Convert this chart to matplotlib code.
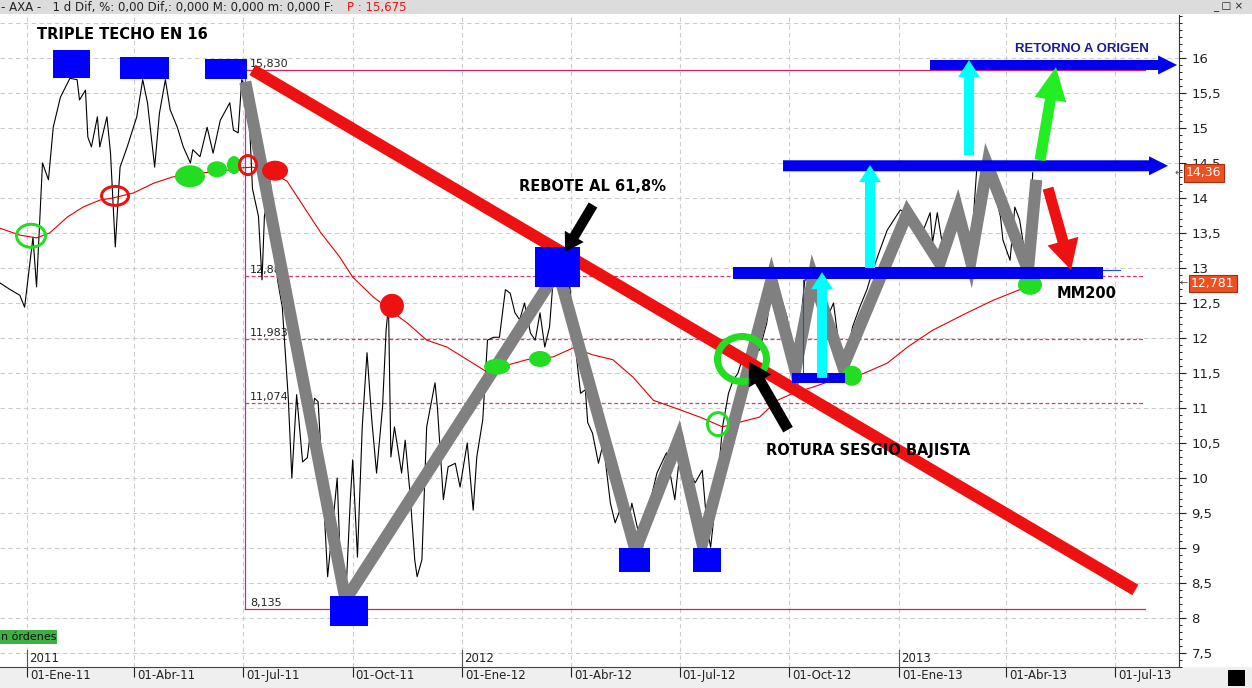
import numpy as np
import pandas as pd
import matplotlib
matplotlib.use('Agg')
import matplotlib.pyplot as plt
from matplotlib.patches import Rectangle, Ellipse, FancyArrowPatch, ArrowStyle
from matplotlib.ticker import MultipleLocator, FuncFormatter
import matplotlib.transforms as mtrans

# ---------------- data (x = days since 2011-01-01, y = price in EUR) ----------------
BASE = pd.Timestamp('2011-01-01')

price_days = [-23, -14, -6, -2, 5, 8, 13, 18, 22, 28,
              36, 42, 44, 49, 51, 54, 59, 61, 67, 70,
              74, 78, 84, 92, 97, 101, 107, 111, 116, 120,
              126, 131, 137, 139, 145, 151, 156, 162, 170, 173,
              177, 180, 183, 185, 189, 194, 197, 199, 204, 210,
              214, 219, 222, 226, 231, 235, 241, 244, 248, 252,
              260, 262, 265, 268, 271, 273, 277, 281, 285, 289,
              293, 298, 301, 303, 305, 308, 314, 317, 321, 325,
              327, 331, 335, 342, 344, 349, 353, 359, 363, 369,
              374, 377, 382, 386, 391, 396, 401, 405, 409, 413,
              417, 422, 426, 430, 434, 438, 441, 447, 451, 455,
              459, 464, 468, 470, 474, 479, 483, 489, 493, 497,
              503, 507, 512, 516, 522, 528, 536, 543, 549, 556,
              560, 566, 570, 573, 578, 583, 588, 592, 596, 600,
              606, 614, 620, 625, 631, 637, 642, 648, 652, 656,
              663, 671, 676, 681, 687, 692, 698, 704, 709, 715,
              721, 732, 736, 743, 749, 757, 759, 763, 768, 774,
              779, 785, 791, 796, 805, 810, 816, 818, 824, 828,
              832, 835, 839, 843]
price_vals = [12.79, 12.69, 12.61, 12.44, 13.44, 12.73, 14.50, 14.26, 15.01, 15.44,
              15.71, 15.69, 15.40, 15.54, 14.87, 14.73, 15.16, 14.73, 15.16, 14.64,
              13.30, 14.44, 14.73, 15.16, 15.69, 15.36, 14.44, 15.21, 15.69, 15.26,
              15.01, 14.73, 14.50, 14.69, 14.59, 15.01, 14.64, 15.11, 15.36, 14.97,
              14.93, 15.69, 15.59, 15.62, 14.13, 13.74, 12.83, 13.74, 14.24, 12.83,
              12.44, 11.14, 10.00, 11.19, 10.23, 10.29, 11.14, 11.09, 9.89, 8.59,
              10.00, 9.07, 8.19, 8.59, 9.69, 10.26, 8.87, 10.73, 11.79, 10.83,
              10.07, 11.01, 12.11, 12.47, 10.30, 10.73, 10.07, 10.54, 9.79, 8.83,
              8.59, 8.83, 10.73, 11.36, 11.01, 9.69, 10.16, 10.21, 9.87, 10.50,
              9.54, 10.30, 10.83, 11.97, 12.01, 12.01, 12.69, 12.64, 12.36, 12.26,
              12.50, 12.07, 11.97, 12.36, 11.87, 12.16, 12.83, 12.97, 12.64, 12.73,
              11.97, 11.21, 11.26, 10.79, 10.64, 10.21, 10.50, 9.64, 9.36, 9.54,
              9.26, 9.64, 9.26, 9.01, 9.64, 10.07, 10.36, 9.69, 10.64, 10.07,
              9.93, 10.11, 9.30, 9.01, 9.79, 10.73, 11.21, 11.40, 11.50, 11.73,
              11.73, 11.83, 12.21, 12.79, 12.64, 12.30, 11.69, 12.16, 12.83, 12.83,
              12.44, 12.30, 12.50, 11.83, 11.73, 12.16, 12.44, 12.69, 12.97, 13.26,
              13.54, 13.83, 13.79, 13.64, 13.44, 13.79, 13.36, 13.79, 13.26, 13.54,
              13.87, 13.59, 13.16, 14.40, 14.59, 14.16, 13.73, 13.40, 13.11, 13.87,
              13.69, 13.36, 13.07, 14.36]

ma_days = [-23, -6, 8, 19, 34, 47, 61, 72, 89, 106,
           122, 145, 159, 179, 189, 201, 218, 246, 262, 273,
           290, 304, 319, 335, 352, 369, 386, 402, 419, 441,
           458, 474, 491, 508, 525, 548, 564, 583, 598, 614,
           629, 642, 659, 676, 698, 721, 738, 759, 788, 810,
           832, 841]
ma_vals = [13.57, 13.47, 13.43, 13.50, 13.73, 13.87, 13.97, 14.00, 14.07, 14.21,
           14.30, 14.36, 14.37, 14.43, 14.44, 14.40, 14.24, 13.51, 13.16, 12.87,
           12.59, 12.40, 12.21, 11.97, 11.87, 11.69, 11.51, 11.61, 11.69, 11.73,
           11.86, 11.76, 11.69, 11.44, 11.11, 10.97, 10.87, 10.73, 10.80, 10.87,
           11.11, 11.21, 11.30, 11.40, 11.47, 11.64, 11.87, 12.11, 12.36, 12.54,
           12.69, 12.78]

zigzag_days = [183, 267, 445, 510, 546, 566, 624, 644, 659, 684, 738, 765, 780, 791, 805, 839, 846]
zigzag_vals = [15.66, 8.26, 12.97, 8.97, 10.54, 9.07, 12.83, 11.54, 12.86, 11.59,
               13.79, 13.07, 13.83, 13.11, 14.47, 12.97, 14.26]

trend_days = [189, 929]
trend_vals = [15.83, 8.40]

fib_days = [183, 937]
fib_high, fib_low = 15.830, 8.135
fib_mid_levels = [12.889, 11.983, 11.074]
fib_labels = ['15,830', '12,889', '11,983', '11,074', '8,135']

square_days = [37.7, 98.9, 166.8, 269.9, 444.3, 509.6, 570.0]
square_vals = [15.91, 15.86, 15.84, 8.10, 13.01, 8.83, 8.83]

# circles on the moving average
mark_days = [3.4, 73.8, 136.6, 159.3, 173.5, 185.2, 207.9, 305.9, 394.0, 430.0, 579.2, 599.3, 691.5, 840.7]
mark_vals = [13.46, 14.03, 14.31, 14.41, 14.47, 14.47, 14.39, 12.46, 11.59, 11.70, 10.77, 11.70, 11.46, 12.76]
mark_kind = ['open', 'open', 'fill', 'fill', 'fill', 'open', 'fill', 'fill', 'fill', 'fill', 'open', 'open', 'fill', 'fill']
mark_color = ['g', 'r', 'g', 'g', 'g', 'r', 'r', 'r', 'g', 'g', 'g', 'g', 'g', 'g']

level_vals = [15.90, 14.46, 12.93, 11.43]
level_start = [756.9, 633.7, 591.8, 641.2]
level_end = [964.0, 956.4, 901.9, 685.7]

cyan_days = [666.4, 706.6, 789.6]
cyan_from = [11.43, 13.00, 14.61]
cyan_to = [12.94, 14.47, 15.97]

tick_dates = ['2011-01-01', '2011-04-01', '2011-07-01', '2011-10-01', '2012-01-01', '2012-04-01',
              '2012-07-01', '2012-10-01', '2013-01-01', '2013-04-01', '2013-07-01']
tick_labels = ['01-Ene-11', '01-Abr-11', '01-Jul-11', '01-Oct-11', '01-Ene-12', '01-Abr-12',
               '01-Jul-12', '01-Oct-12', '01-Ene-13', '01-Abr-13', '01-Jul-13']
year_dates = ['2011-01-01', '2012-01-01', '2013-01-01']
year_labels = ['2011', '2012', '2013']

last_price, last_ma = 14.36, 12.781

# ---------------- figure ----------------
W, H = 1252, 688
fig = plt.figure(figsize=(W / 100, H / 100), dpi=100)
fig.patch.set_facecolor('white')
PX_R, PX_T, PX_B = 1179, 15, 667
ax = fig.add_axes([0, 1 - PX_B / H, PX_R / W, (PX_B - PX_T) / H])
X0, X1 = -22.63, 965.6
Y0, Y1 = 7.30, 16.614
ax.set_xlim(X0, X1)
ax.set_ylim(Y0, Y1)
DX = (X1 - X0) / PX_R
DY = (Y1 - Y0) / (PX_B - PX_T)
PT = 0.72

def dnum(s):
    return (pd.Timestamp(s) - BASE).days

# grid and axes
ax.set_yticks(np.arange(7.5, 16.01, 0.5))
ax.yaxis.set_minor_locator(MultipleLocator(0.1))
ax.yaxis.set_major_formatter(FuncFormatter(lambda v, p: ('%g' % v).replace('.', ',')))
ax.yaxis.tick_right()
ax.tick_params(axis='y', which='major', direction='out', length=5, width=0.8, labelsize=9.5,
               pad=4, colors='#222222')
ax.tick_params(axis='y', which='minor', direction='out', length=2.5, width=0.7, colors='#222222')
ax.set_xticks([dnum(d) for d in tick_dates])
ax.set_xticklabels(tick_labels, ha='left', fontsize=8.5, color='#222222')
ax.tick_params(axis='x', direction='out', length=7, width=0.8, pad=-5.5, colors='#222222')
ax.grid(True, color='#cdcdcd', linestyle=(0, (4, 3)), lw=0.8, zorder=0)
ax.axhline(16.5, color='#cdcdcd', linestyle=(0, (4, 3)), lw=0.8, zorder=0)
ax.set_axisbelow(True)
for s in ['left', 'top']:
    ax.spines[s].set_visible(False)
ax.spines['right'].set_color('#333333')
ax.spines['bottom'].set_color('#444444')
# shift x tick labels slightly right of their tick
offset = mtrans.ScaledTranslation(3 / 100, 0, fig.dpi_scale_trans)
for lab in ax.get_xticklabels():
    lab.set_transform(lab.get_transform() + offset)

for d, lab in zip(year_dates, year_labels):
    xd = dnum(d)
    ax.plot([xd, xd], [Y0, Y0 + 17 * DY], color='#555555', lw=0.8, zorder=1)
    ax.text(xd + 2 * DX, Y0 + 9 * DY, lab, fontsize=8.5, va='center', ha='left', color='#222222')

# fibonacci lines
ax.plot(fib_days, [fib_high] * 2, color='#cc2266', lw=0.9, zorder=1)
ax.plot(fib_days, [fib_low] * 2, color='#cc2266', lw=0.9, zorder=1)
ax.plot([fib_days[0]] * 2, [fib_low, fib_high], color='#b030b0', lw=0.9, zorder=1)
for lv in fib_mid_levels:
    ax.plot(fib_days, [lv] * 2, color='#dd3377', lw=0.9, linestyle=(0, (3, 2)), zorder=1)
for lv, lab in zip([fib_high] + fib_mid_levels + [fib_low], fib_labels):
    ax.text(fib_days[0] + 5 * DX, lv + 1 * DY, lab, fontsize=8, va='bottom', ha='left',
            color='#222222', zorder=1.5)

# price and moving average
ax.plot(price_days, price_vals, color='black', lw=0.8, zorder=2)
ax.plot(ma_days, ma_vals, color='#e00000', lw=0.8, zorder=3)

# grey zigzag and red trend line
ax.plot(zigzag_days, zigzag_vals, color='#808080', lw=12 * PT, solid_joinstyle='miter',
        solid_capstyle='butt', zorder=4)
ax.plot(trend_days, trend_vals, color='#ee1111', lw=12 * PT, solid_capstyle='butt', zorder=5)

# circles
mark_size = [(32, 26), (30, 22), (30, 22), (20, 16), (14, 18), (20, 22), (26, 20), (24, 24),
             (26, 16), (22, 16), (24, 26), (56, 52), (20, 20), (24, 20)]
mark_lw = {0: 3, 1: 3, 5: 3, 10: 3, 11: 7}
cols = {'g': '#22dd22', 'r': '#ee1111'}
for i, (xd, yv, k, c) in enumerate(zip(mark_days, mark_vals, mark_kind, mark_color)):
    w, h = mark_size[i]
    if k == 'fill':
        e = Ellipse((xd, yv), w * DX, h * DY, facecolor=cols[c], edgecolor='none', zorder=6)
    else:
        e = Ellipse((xd, yv), (w - mark_lw[i]) * DX, (h - mark_lw[i]) * DY, facecolor='none',
                    edgecolor=cols[c], lw=mark_lw[i] * PT, zorder=6)
    ax.add_patch(e)

# blue squares
sq_size = [(37, 28), (49, 22), (42, 20), (38, 30), (45, 40), (31, 24), (28, 24)]
for xd, yv, (w, h) in zip(square_days, square_vals, sq_size):
    ax.add_patch(Rectangle((xd - w / 2 * DX, yv - h / 2 * DY), w * DX, h * DY,
                           facecolor='#0000ff', edgecolor='none', zorder=7))

def arrow(x0, y0, x1, y1, color, tail, hw, hl, z=8):
    st = ArrowStyle.Simple(head_length=hl * PT, head_width=hw * PT, tail_width=tail * PT)
    ax.add_patch(FancyArrowPatch((x0, y0), (x1, y1), arrowstyle=st, mutation_scale=1,
                                 color=color, lw=0, shrinkA=0, shrinkB=0, zorder=z))

# blue levels
arrow(level_start[0], level_vals[0], level_end[0], level_vals[0], '#0000ee', 10, 19, 19, z=7)
arrow(level_start[1], level_vals[1], level_end[1], level_vals[1], '#0000ee', 11, 19, 19, z=7)
ax.plot([level_start[2], level_end[2]], [level_vals[2]] * 2, color='#0000ee', lw=12 * PT,
        solid_capstyle='butt', zorder=7)
ax.plot([level_end[2], level_end[2] + 17 * DX], [level_vals[2] + 3 * DY] * 2, color='#2244ee', lw=0.8, zorder=7)
ax.plot([level_start[3], level_end[3]], [level_vals[3]] * 2, color='#0000ee', lw=10 * PT,
        solid_capstyle='butt', zorder=7)
ax.plot([650.5, 650.5], [11.43, 12.83], color='#2244ee', lw=0.8, zorder=4.5)

# cyan arrows
for xd, a, b in zip(cyan_days, cyan_from, cyan_to):
    arrow(xd, a, xd, b, '#00ffff', 10, 22, 17)
# green / red / black arrows
arrow(849.1, 14.54, 862.5, 15.87, '#22ee22', 11, 32, 33)
arrow(855.8, 14.14, 875.1, 12.97, '#ee1111', 11, 32, 30)
arrow(474.4, 13.90, 451.0, 13.23, 'black', 10, 22, 18)
arrow(637.9, 10.69, 605.2, 11.66, 'black', 11, 26, 22)

# annotations
tkw = dict(fontsize=10.5, fontweight='bold', color='black', va='center', ha='left', zorder=9)
ax.text(8.4, 16.33, 'TRIPLE TECHO EN 16', **tkw)
ax.text(412.4, 14.17, 'REBOTE AL 61,8%', **tkw)
ax.text(619.4, 10.39, 'ROTURA SESGIO BAJISTA', **tkw)
ax.text(863.4, 12.64, 'MM200', **tkw)
ax.text(828.2, 16.13, 'RETORNO A ORIGEN', fontsize=9.5, fontweight='bold', color='#1a1a9a',
        va='center', ha='left', family='Liberation Sans', zorder=9)

# value boxes on the right axis
blend = mtrans.blended_transform_factory(ax.transAxes, ax.transData)
for yv, txt, xo in [(last_price, '14,36', 1183), (last_ma, '12,781', 1188)]:
    ax.text(xo / PX_R + 3 / PX_R, yv, txt, transform=blend, color='white', fontsize=9,
            va='center', ha='left', clip_on=False, zorder=10,
            bbox=dict(boxstyle='square,pad=0.18', fc='#f05020', ec='#a03010', lw=0.8))
    ax.text((xo - 8) / PX_R, yv, '←', transform=blend, color='#555555', fontsize=7,
            va='center', ha='left', clip_on=False, zorder=10)

# top bar
fig.add_artist(Rectangle((0, 1 - 14 / H), 1, 14 / H, transform=fig.transFigure,
                         facecolor='#dcdcdc', edgecolor='none', zorder=-1))
fig.text(1 / W, 1 - 7 / H, '- AXA -   1 d Dif, %: 0,00 Dif,: 0,000 M: 0,000 m: 0,000 F:',
         fontsize=8.5, va='center', ha='left', color='#222222')
fig.text(347 / W, 1 - 7 / H, 'P : 15,675', fontsize=8.5, va='center', ha='left', color='#ee1111')
fig.text(1213 / W, 1 - 7 / H, '_ □ ×', fontsize=7.5, va='center', ha='left', color='#222222')

# bottom bar
fig.add_artist(Rectangle((0, 0), 1, (H - PX_B) / H, transform=fig.transFigure,
                         facecolor='#efefef', edgecolor='none', zorder=-1))
fig.add_artist(Rectangle((1228 / W, 2 / H), 17 / W, 16 / H, transform=fig.transFigure,
                         facecolor='black', edgecolor='none', zorder=2))
fig.add_artist(Rectangle((0, 1 - 644 / H), 57 / W, 14 / H, transform=fig.transFigure,
                         facecolor='#3cb043', edgecolor='none', zorder=2))
fig.text(1 / W, 1 - 637 / H, 'n órdenes', fontsize=8, va='center', ha='left', color='#111111', zorder=3)

fig.savefig('out.png', dpi=100)
